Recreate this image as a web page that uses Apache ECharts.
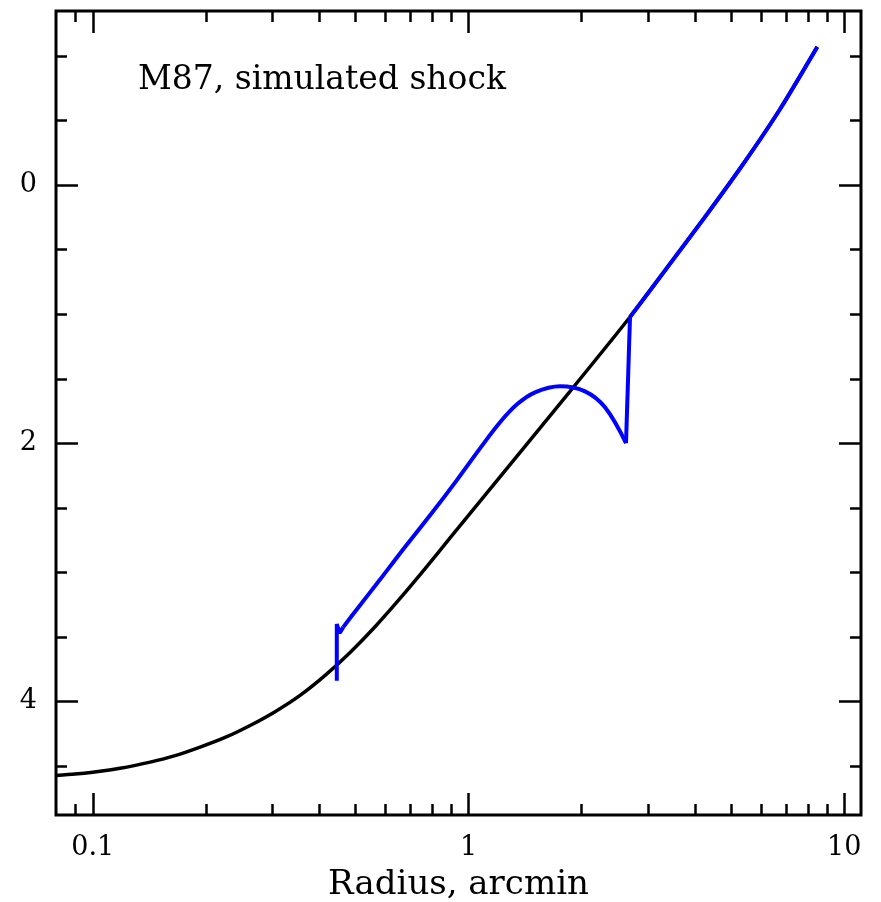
<!DOCTYPE html>
<html>
<head>
<meta charset="utf-8">
<script src="https://cdn.jsdelivr.net/npm/echarts@6/dist/echarts.min.js"></script>
<style>
html,body{margin:0;padding:0;background:#fff;}
#chart{width:881px;height:902px;}
</style>
</head>
<body>
<div id="chart"></div>
<script>
// Unperturbed profile (black)
const blackR = [0.0798, 0.0897, 0.1, 0.1182, 0.1421, 0.1656, 0.193, 0.2249, 0.2622, 0.3056, 0.3561, 0.4152, 0.4839, 0.5639, 0.6573, 0.7663, 0.8929, 1.2129, 1.8626, 2.69, 3.375, 4.234, 5.343, 6.744, 8.476];
const blackV = [4.574, 4.563, 4.548, 4.518, 4.470, 4.420, 4.354, 4.279, 4.186, 4.079, 3.953, 3.798, 3.620, 3.421, 3.202, 2.971, 2.733, 2.260, 1.597, 1.021, 0.640, 0.256, -0.151, -0.589, -1.072];
// Simulated shock profile (blue), in pieces
const spikeR = [0.446, 0.446, 0.454, 0.464];
const spikeV = [3.84, 3.40, 3.47, 3.424];
const arcR = [0.464, 0.504, 0.582, 0.657, 0.790, 0.930, 1.073, 1.213, 1.346, 1.503, 1.752, 2.042, 2.308, 2.625];
const arcV = [3.424, 3.287, 3.054, 2.853, 2.558, 2.287, 2.039, 1.837, 1.698, 1.605, 1.558, 1.597, 1.721, 1.998];
const jumpR = [2.625, 2.69];
const jumpV = [1.998, 1.021];
const outerR = [2.69, 3.375, 4.234, 5.343, 6.744, 8.476];
const outerV = [1.021, 0.640, 0.256, -0.151, -0.589, -1.072];
// Ticks
const xMajorTicks = [0.1, 1, 10];
const xMinorTicks = [0.09, 0.2, 0.3, 0.4, 0.5, 0.6, 0.7, 0.8, 0.9, 2, 3, 4, 5, 6, 7, 8, 9];
const yMajorTicks = [0, 2, 4];
const yMinorTicks = [-1, -0.5, 0.5, 1, 1.5, 2.5, 3, 3.5, 4.5];
const titleText = 'M87, simulated shock';
const xName = 'Radius, arcmin';

const X_MIN = 0.0798, X_MAX = 11.08, Y_MIN = -1.35, Y_MAX = 4.88;
const zip = (a, b) => a.map((v, i) => [v, b[i]]);
const FONT = 'DejaVu Serif';

function xAx(pos, ticks, len, labels) {
  return {
    type: 'log', logBase: 10, position: pos, min: X_MIN, max: X_MAX,
    axisLine: { show: false, onZero: false },
    splitLine: { show: false },
    axisTick: { show: true, inside: true, length: len, customValues: ticks, lineStyle: { color: '#000', width: 2.5 } },
    axisLabel: labels ? {
      show: true, customValues: ticks, margin: 19, color: '#000', fontSize: 27, fontFamily: FONT,
      formatter: v => String(+v.toPrecision(3))
    } : { show: false },
    name: labels ? xName : '', nameLocation: 'middle', nameGap: 53,
    nameTextStyle: { color: '#000', fontSize: 34, fontFamily: FONT }
  };
}
function yAx(pos, ticks, len, labels) {
  return {
    type: 'value', position: pos, min: Y_MIN, max: Y_MAX, inverse: true,
    axisLine: { show: false, onZero: false },
    splitLine: { show: false },
    axisTick: { show: true, inside: true, length: len, customValues: ticks, lineStyle: { color: '#000', width: 2.5 } },
    axisLabel: labels ? {
      show: true, customValues: ticks, margin: 19, color: '#000', fontSize: 27, fontFamily: FONT
    } : { show: false }
  };
}

const chart = echarts.init(document.getElementById('chart'), null, { renderer: 'canvas' });
chart.setOption({
  animation: false,
  backgroundColor: '#fff',
  title: {
    text: titleText, left: 138, top: 64, padding: 0,
    textStyle: { color: '#000', fontSize: 33, fontWeight: 'normal', fontFamily: FONT }
  },
  grid: { left: 56, right: 20, top: 11, bottom: 87, outerBoundsMode: 'none', containLabel: false,
    show: true, borderColor: '#000', borderWidth: 3, backgroundColor: 'transparent' },
  xAxis: [
    xAx('bottom', xMajorTicks, 22, true),
    xAx('bottom', xMinorTicks, 11, false),
    xAx('top', xMajorTicks, 22, false),
    xAx('top', xMinorTicks, 11, false)
  ],
  yAxis: [
    yAx('left', yMajorTicks, 22, true),
    yAx('left', yMinorTicks, 11, false),
    yAx('right', yMajorTicks, 22, false),
    yAx('right', yMinorTicks, 11, false)
  ],
  series: [
    { type: 'line', name: 'unshocked', data: zip(blackR, blackV), smooth: 0.25, showSymbol: false,
      lineStyle: { color: '#000', width: 3.5 }, z: 2 },
    { type: 'line', name: 'shock spike', data: zip(spikeR, spikeV), showSymbol: false,
      lineStyle: { color: '#0000ff', width: 4 }, z: 3 },
    { type: 'line', name: 'shock arc', data: zip(arcR, arcV), smooth: 0.35, showSymbol: false,
      lineStyle: { color: '#0000ff', width: 4 }, z: 3 },
    { type: 'line', name: 'shock jump', data: zip(jumpR, jumpV), showSymbol: false,
      lineStyle: { color: '#0000ff', width: 4 }, z: 3 },
    { type: 'line', name: 'outer', data: zip(outerR, outerV), smooth: 0.25, showSymbol: false,
      lineStyle: { color: '#0000ff', width: 4 }, z: 3 }
  ]
});
</script>
</body>
</html>
